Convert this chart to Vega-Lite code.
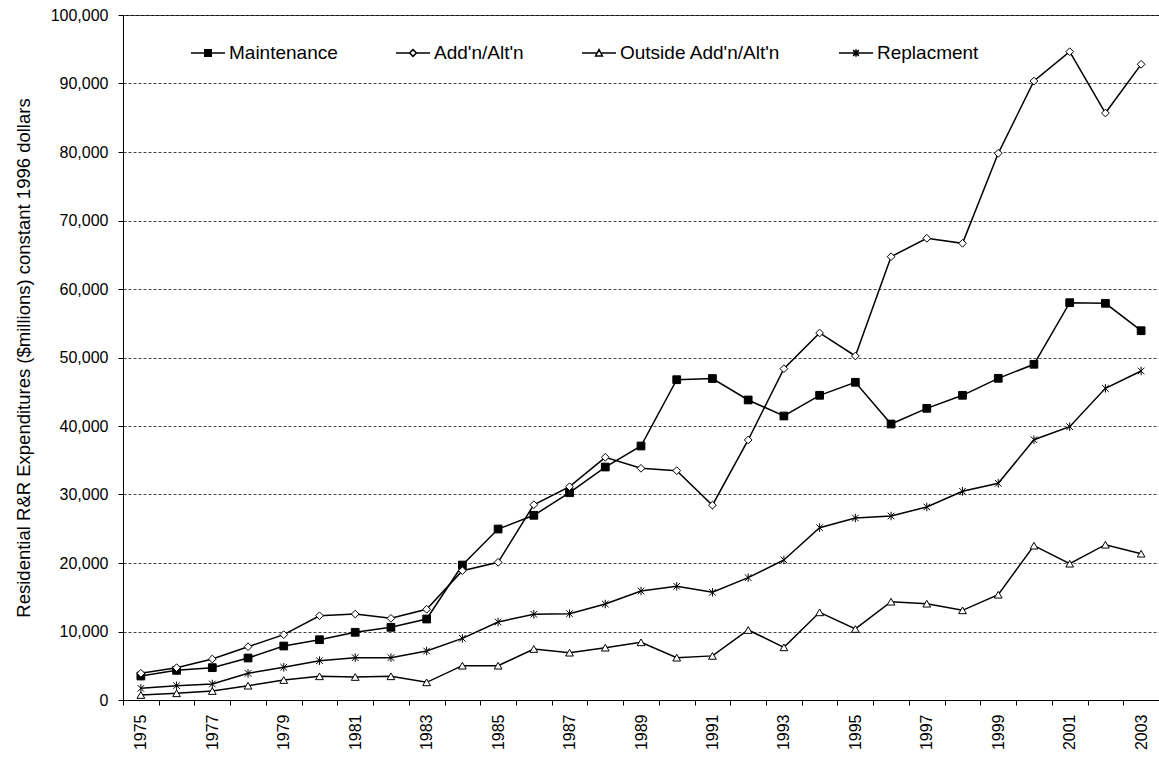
{
  "$schema": "https://vega.github.io/schema/vega-lite/v6.json",
  "width": 1036,
  "height": 685,
  "autosize": {"type": "none"},
  "padding": {"left": 123, "top": 15, "right": 0, "bottom": 63},
  "background": "white",
  "config": {
    "font": "Liberation Sans",
    "view": {"stroke": "black", "strokeWidth": 1}
  },
  "data": {
    "values": [
      {"year": 1975, "series": "Maintenance", "value": 3500},
      {"year": 1976, "series": "Maintenance", "value": 4330},
      {"year": 1977, "series": "Maintenance", "value": 4720},
      {"year": 1978, "series": "Maintenance", "value": 6130},
      {"year": 1979, "series": "Maintenance", "value": 7880},
      {"year": 1980, "series": "Maintenance", "value": 8800},
      {"year": 1981, "series": "Maintenance", "value": 9880},
      {"year": 1982, "series": "Maintenance", "value": 10610},
      {"year": 1983, "series": "Maintenance", "value": 11820},
      {"year": 1984, "series": "Maintenance", "value": 19700},
      {"year": 1985, "series": "Maintenance", "value": 24960},
      {"year": 1986, "series": "Maintenance", "value": 26960},
      {"year": 1987, "series": "Maintenance", "value": 30260},
      {"year": 1988, "series": "Maintenance", "value": 34010},
      {"year": 1989, "series": "Maintenance", "value": 37080},
      {"year": 1990, "series": "Maintenance", "value": 46760},
      {"year": 1991, "series": "Maintenance", "value": 46930},
      {"year": 1992, "series": "Maintenance", "value": 43800},
      {"year": 1993, "series": "Maintenance", "value": 41460},
      {"year": 1994, "series": "Maintenance", "value": 44480},
      {"year": 1995, "series": "Maintenance", "value": 46380},
      {"year": 1996, "series": "Maintenance", "value": 40290},
      {"year": 1997, "series": "Maintenance", "value": 42580},
      {"year": 1998, "series": "Maintenance", "value": 44480},
      {"year": 1999, "series": "Maintenance", "value": 46960},
      {"year": 2000, "series": "Maintenance", "value": 49010},
      {"year": 2001, "series": "Maintenance", "value": 58000},
      {"year": 2002, "series": "Maintenance", "value": 57910},
      {"year": 2003, "series": "Maintenance", "value": 53910},
      {"year": 1975, "series": "Add'n/Alt'n", "value": 3900},
      {"year": 1976, "series": "Add'n/Alt'n", "value": 4720},
      {"year": 1977, "series": "Add'n/Alt'n", "value": 5990},
      {"year": 1978, "series": "Add'n/Alt'n", "value": 7780},
      {"year": 1979, "series": "Add'n/Alt'n", "value": 9540},
      {"year": 1980, "series": "Add'n/Alt'n", "value": 12300},
      {"year": 1981, "series": "Add'n/Alt'n", "value": 12550},
      {"year": 1982, "series": "Add'n/Alt'n", "value": 11920},
      {"year": 1983, "series": "Add'n/Alt'n", "value": 13240},
      {"year": 1984, "series": "Add'n/Alt'n", "value": 18880},
      {"year": 1985, "series": "Add'n/Alt'n", "value": 20100},
      {"year": 1986, "series": "Add'n/Alt'n", "value": 28510},
      {"year": 1987, "series": "Add'n/Alt'n", "value": 31140},
      {"year": 1988, "series": "Add'n/Alt'n", "value": 35430},
      {"year": 1989, "series": "Add'n/Alt'n", "value": 33820},
      {"year": 1990, "series": "Add'n/Alt'n", "value": 33480},
      {"year": 1991, "series": "Add'n/Alt'n", "value": 28440},
      {"year": 1992, "series": "Add'n/Alt'n", "value": 37960},
      {"year": 1993, "series": "Add'n/Alt'n", "value": 48370},
      {"year": 1994, "series": "Add'n/Alt'n", "value": 53580},
      {"year": 1995, "series": "Add'n/Alt'n", "value": 50220},
      {"year": 1996, "series": "Add'n/Alt'n", "value": 64720},
      {"year": 1997, "series": "Add'n/Alt'n", "value": 67400},
      {"year": 1998, "series": "Add'n/Alt'n", "value": 66670},
      {"year": 1999, "series": "Add'n/Alt'n", "value": 79810},
      {"year": 2000, "series": "Add'n/Alt'n", "value": 90360},
      {"year": 2001, "series": "Add'n/Alt'n", "value": 94640},
      {"year": 2002, "series": "Add'n/Alt'n", "value": 85690},
      {"year": 2003, "series": "Add'n/Alt'n", "value": 92800},
      {"year": 1975, "series": "Outside Add'n/Alt'n", "value": 730},
      {"year": 1976, "series": "Outside Add'n/Alt'n", "value": 980},
      {"year": 1977, "series": "Outside Add'n/Alt'n", "value": 1310},
      {"year": 1978, "series": "Outside Add'n/Alt'n", "value": 2090},
      {"year": 1979, "series": "Outside Add'n/Alt'n", "value": 2920},
      {"year": 1980, "series": "Outside Add'n/Alt'n", "value": 3460},
      {"year": 1981, "series": "Outside Add'n/Alt'n", "value": 3360},
      {"year": 1982, "series": "Outside Add'n/Alt'n", "value": 3460},
      {"year": 1983, "series": "Outside Add'n/Alt'n", "value": 2580},
      {"year": 1984, "series": "Outside Add'n/Alt'n", "value": 5010},
      {"year": 1985, "series": "Outside Add'n/Alt'n", "value": 5010},
      {"year": 1986, "series": "Outside Add'n/Alt'n", "value": 7450},
      {"year": 1987, "series": "Outside Add'n/Alt'n", "value": 6910},
      {"year": 1988, "series": "Outside Add'n/Alt'n", "value": 7640},
      {"year": 1989, "series": "Outside Add'n/Alt'n", "value": 8420},
      {"year": 1990, "series": "Outside Add'n/Alt'n", "value": 6180},
      {"year": 1991, "series": "Outside Add'n/Alt'n", "value": 6440},
      {"year": 1992, "series": "Outside Add'n/Alt'n", "value": 10220},
      {"year": 1993, "series": "Outside Add'n/Alt'n", "value": 7690},
      {"year": 1994, "series": "Outside Add'n/Alt'n", "value": 12800},
      {"year": 1995, "series": "Outside Add'n/Alt'n", "value": 10370},
      {"year": 1996, "series": "Outside Add'n/Alt'n", "value": 14350},
      {"year": 1997, "series": "Outside Add'n/Alt'n", "value": 14060},
      {"year": 1998, "series": "Outside Add'n/Alt'n", "value": 13090},
      {"year": 1999, "series": "Outside Add'n/Alt'n", "value": 15370},
      {"year": 2000, "series": "Outside Add'n/Alt'n", "value": 22530},
      {"year": 2001, "series": "Outside Add'n/Alt'n", "value": 19900},
      {"year": 2002, "series": "Outside Add'n/Alt'n", "value": 22670},
      {"year": 2003, "series": "Outside Add'n/Alt'n", "value": 21360},
      {"year": 1975, "series": "Replacment", "value": 1700},
      {"year": 1976, "series": "Replacment", "value": 2090},
      {"year": 1977, "series": "Replacment", "value": 2340},
      {"year": 1978, "series": "Replacment", "value": 3890},
      {"year": 1979, "series": "Replacment", "value": 4770},
      {"year": 1980, "series": "Replacment", "value": 5740},
      {"year": 1981, "series": "Replacment", "value": 6180},
      {"year": 1982, "series": "Replacment", "value": 6180},
      {"year": 1983, "series": "Replacment", "value": 7150},
      {"year": 1984, "series": "Replacment", "value": 9000},
      {"year": 1985, "series": "Replacment", "value": 11390},
      {"year": 1986, "series": "Replacment", "value": 12510},
      {"year": 1987, "series": "Replacment", "value": 12600},
      {"year": 1988, "series": "Replacment", "value": 14010},
      {"year": 1989, "series": "Replacment", "value": 15910},
      {"year": 1990, "series": "Replacment", "value": 16600},
      {"year": 1991, "series": "Replacment", "value": 15720},
      {"year": 1992, "series": "Replacment", "value": 17860},
      {"year": 1993, "series": "Replacment", "value": 20440},
      {"year": 1994, "series": "Replacment", "value": 25160},
      {"year": 1995, "series": "Replacment", "value": 26570},
      {"year": 1996, "series": "Replacment", "value": 26860},
      {"year": 1997, "series": "Replacment", "value": 28180},
      {"year": 1998, "series": "Replacment", "value": 30470},
      {"year": 1999, "series": "Replacment", "value": 31630},
      {"year": 2000, "series": "Replacment", "value": 38000},
      {"year": 2001, "series": "Replacment", "value": 39900},
      {"year": 2002, "series": "Replacment", "value": 45500},
      {"year": 2003, "series": "Replacment", "value": 48030}
    ]
  },
  "encoding": {
    "x": {
      "field": "year",
      "type": "ordinal",
      "scale": {"type": "band", "paddingInner": 0, "paddingOuter": 0},
      "axis": {
        "title": null,
        "labelAngle": 270,
        "labelExpr": "datum.value % 2 == 1 ? datum.label : ''",
        "tickBand": "extent",
        "labelFontSize": 16,
        "labelColor": "black",
        "labelPadding": 9,
        "tickSize": 5,
        "tickColor": "black",
        "domainColor": "black",
        "grid": false
      }
    },
    "y": {
      "field": "value",
      "type": "quantitative",
      "scale": {"domain": [0, 100000], "nice": false},
      "axis": {
        "values": [0, 10000, 20000, 30000, 40000, 50000, 60000, 70000, 80000, 90000, 100000],
        "format": ",.0f",
        "title": "Residential R&R Expenditures ($millions) constant 1996 dollars",
        "titleFontSize": 18.5,
        "titleFontWeight": "normal",
        "titleColor": "black",
        "titlePadding": 17,
        "labelFontSize": 16,
        "labelColor": "black",
        "labelPadding": 10,
        "tickSize": 5,
        "tickColor": "black",
        "domainColor": "black",
        "gridDash": [3, 2],
        "gridColor": "#444444",
        "gridOpacity": 1
      }
    }
  },
  "layer": [
    {
      "mark": {"type": "line", "color": "black", "strokeWidth": 1.5},
      "encoding": {"detail": {"field": "series"}}
    },
    {
      "mark": {"type": "point", "filled": true, "opacity": 1, "stroke": "black", "strokeWidth": 1},
      "encoding": {
        "shape": {
          "field": "series",
          "scale": {
            "domain": ["Maintenance", "Add'n/Alt'n", "Outside Add'n/Alt'n", "Replacment"],
            "range": ["square", "diamond", "triangle-up", "M0,-1.1V1.1M-0.85,-0.85L0.85,0.85M-0.85,0.85L0.85,-0.85"]
          },
          "legend": null
        },
        "fill": {
          "field": "series",
          "scale": {
            "domain": ["Maintenance", "Add'n/Alt'n", "Outside Add'n/Alt'n", "Replacment"],
            "range": ["black", "white", "white", "white"]
          },
          "legend": null
        },
        "size": {"value": 60}
      }
    },
    {
      "transform": [{"filter": "datum.value < 0"}],
      "mark": {"type": "point", "opacity": 1},
      "encoding": {
        "shape": {
          "field": "series",
          "scale": {
            "domain": ["Maintenance", "Add'n/Alt'n", "Outside Add'n/Alt'n", "Replacment"],
            "range": [
              "M-1,0H1M-0.19,-0.19H0.19V0.19H-0.19ZM-0.19,-0.14H0.19M-0.19,-0.09H0.19M-0.19,-0.045H0.19M-0.19,0.045H0.19M-0.19,0.09H0.19M-0.19,0.14H0.19",
              "M-1,0H-0.2M0.2,0H1M0,-0.2L0.2,0L0,0.2L-0.2,0Z",
              "M-1,0H-0.108M0.108,0H1M0,-0.2L0.2,0.17H-0.2Z",
              "M-1,0H1M0,-0.22V0.22M-0.17,-0.17L0.17,0.17M-0.17,0.17L0.17,-0.17"
            ]
          },
          "legend": {
            "title": null,
            "orient": "none",
            "legendX": 67,
            "legendY": 20,
            "direction": "horizontal",
            "symbolSize": 1156,
            "symbolStrokeWidth": 1.5,
            "symbolStrokeColor": "black",
            "symbolFillColor": "white",
            "labelFontSize": 19,
            "labelColor": "black",
            "labelOffset": 3,
            "labelLimit": 400,
            "columnPadding": 55,
            "padding": 0
          }
        }
      }
    }
  ],
  "resolve": {"scale": {"shape": "independent"}}
}
